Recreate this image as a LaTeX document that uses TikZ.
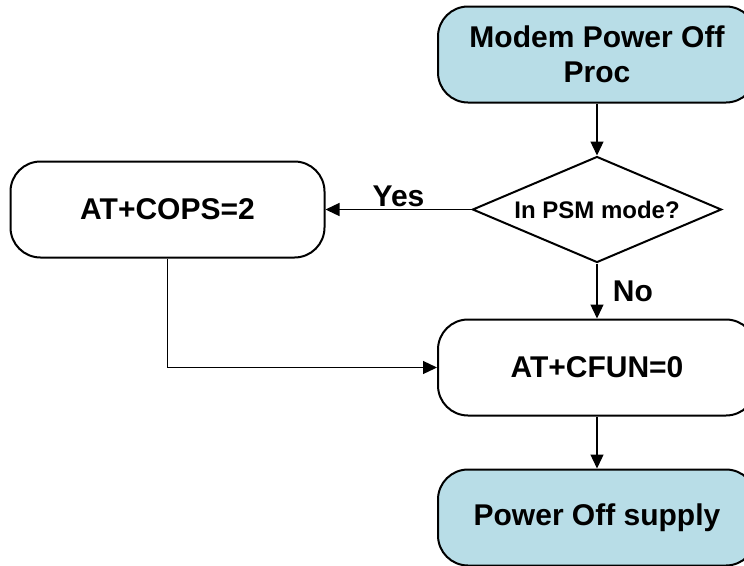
\documentclass[tikz,border=0pt]{standalone}
\usepackage{fontspec}
\setmainfont{Liberation Sans}
\usetikzlibrary{positioning, shapes.geometric, arrows.meta}
\definecolor{procblue}{RGB}{184,221,231}

\begin{document}
\begin{tikzpicture}[x=1pt, y=-1pt,
  box/.style={draw, line width=2pt, rounded corners=30pt, minimum width=318pt, minimum height=96pt, align=center, font=\fontsize{30}{35}\selectfont\bfseries},
  endbox/.style={box, fill=procblue},
  decision/.style={diamond, aspect=2.35, draw, line width=2pt, inner sep=0pt, minimum width=249pt, minimum height=106pt, font=\fontsize{24}{28}\selectfont\bfseries},
  flow/.style={-{Triangle[length=14pt, width=13pt]}, line width=1.3pt},
  lbl/.style={font=\fontsize{30}{35}\selectfont\bfseries}]
  \useasboundingbox (0,0) rectangle (744,565);
  \clip (0,0) rectangle (744,565);
  \node[endbox] (start) at (597,54.5) {Modem Power Off\\Proc};
  \node[decision, below=52pt of start] (psm) {In PSM mode?};
  \node[box, minimum width=314pt, left=146pt of psm] (cops) {AT+COPS=2};
  \node[box, below=55pt of psm] (cfun) {AT+CFUN=0};
  \node[endbox, below=52pt of cfun] (supply) {Power Off supply};
  \draw[flow] (start) -- (psm);
  \draw[flow] (psm) -- node[lbl, above, inner sep=2pt] {Yes} (cops);
  \draw[flow] (psm) -- node[lbl, right=12pt] {No} (cfun);
  \draw[flow] (cops.south) |- (cfun.west);
  \draw[flow] (cfun) -- (supply);
\end{tikzpicture}
\end{document}
